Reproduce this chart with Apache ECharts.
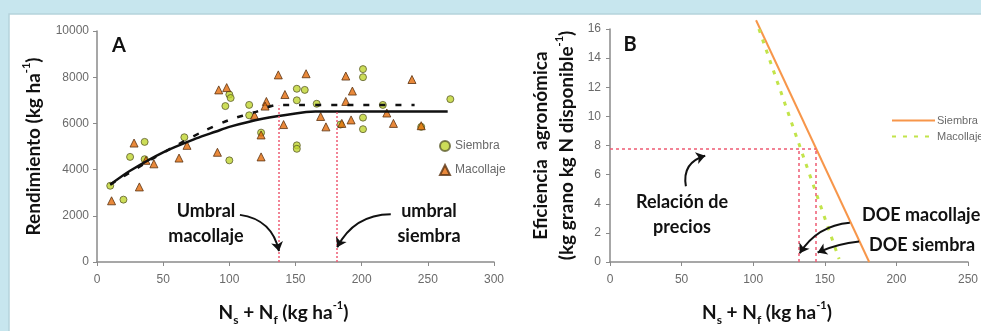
<!DOCTYPE html>
<html>
<head>
<meta charset="utf-8">
<script src="https://cdn.jsdelivr.net/npm/echarts@6/dist/echarts.min.js"></script>
<style>
  html, body { margin: 0; padding: 0; }
  #chart { width: 981px; height: 331px; }
</style>
</head>
<body>
<div id="chart"></div>
<script>
// panel A: rendimiento vs N
const siembraPts = [
  [10, 3300], [20, 2700], [25, 4550], [36, 5200], [36, 4450], [66, 5400],
  [97, 6750], [100, 7250], [101, 7100], [100, 4400], [115, 6800], [115, 6350], [124, 5600],
  [151, 7500], [157, 7450], [151, 7000], [151, 5050], [151, 4900], [166, 6850],
  [184, 5950], [201, 8350], [201, 8000], [201, 6250], [201, 5750], [216, 6800], [245, 5850], [267, 7050]
]
const macollajePts = [
  [11, 2650], [28, 5150], [32, 3250], [37, 4400], [43, 4250], [62, 4500], [68, 5050],
  [91, 4750], [92, 7450], [98, 7550], [119, 6350], [124, 5500], [124, 4550], [128, 6950], [127, 6750],
  [137, 8100], [141, 5950], [142, 7250], [158, 8150], [169, 6300], [173, 5850],
  [185, 6000], [188, 8050], [188, 6950], [192, 6150], [193, 7400], [219, 6450], [224, 6000], [238, 7900], [245, 5900]
]
const siembraFit = [
  [10, 3350], [25, 3950], [50, 4750], [75, 5350], [90, 5650], [100, 5850],
  [125, 6200], [150, 6430], [165, 6510], [181, 6520], [265, 6520]
]
const macollajeFit = [
  [10, 3350], [40, 4400], [60, 5050], [80, 5650], [100, 6150], [120, 6500], [137, 6800], [240, 6800]
]
const umbralMacollaje = 137
const umbralSiembra = 181
// flechas: [inicio, punta, curvatura]
const flechasA = [
  [[108, 2040], [137.5, 470], 0.35],
  [[222, 2070], [181.5, 640], -0.3]
]

// panel B: eficiencia agronomica
const siembraEA = [[102, 16.6], [181, 0]]
const macollajeEA = [[104, 16], [160, 0.2]]
const relacionPrecios = 7.8
const doeMacollaje = 132
const doeSiembra = 144
const flechasB = [
  [[53, 5.2], [66.5, 7.3], 0.45],
  [[167.5, 2.7], [132.5, 0.6], -0.25],
  [[174, 1.4], [145, 0.65], -0.08]
]

const chart = echarts.init(document.getElementById('chart'))

const gridLine = '#8a8a8a'
const tickColor = '#6a6a6a'
const redDot = { color: '#ee5b73', width: 1.5, type: [2, 2] }

const nameRich = {
  b: { fontFamily: 'Lato', fontWeight: 'bold', fontSize: 19, color: '#111', lineHeight: 26 },
  sub: { fontFamily: 'Lato', fontWeight: 'bold', fontSize: 12, color: '#111', lineHeight: 12, verticalAlign: 'bottom' },
  sup: { fontFamily: 'Lato', fontWeight: 'bold', fontSize: 11, color: '#111', lineHeight: 12, verticalAlign: 'top' }
}
const nName = '{b|N}{sub|s}{b| + N}{sub|f}{b| (kg ha}{sup|-1}{b|)}'

const tickLabel = (margin) => ({
  color: tickColor, fontSize: 12, fontFamily: 'Liberation Sans', margin,
  formatter: (v) => String(v)
})

const valueAxis = (extra) => Object.assign({
  type: 'value',
  splitLine: { show: false },
  axisLine: { show: true, lineStyle: { color: gridLine, width: 1.5 } },
  axisTick: { show: true, length: 4, lineStyle: { color: gridLine } },
  nameTextStyle: { rich: nameRich }
}, extra)

const lbl = (text, x, y, align) => ({
  type: 'text', x, y,
  style: {
    text, fill: '#111', font: 'bold 18px Lato', lineHeight: 25,
    textAlign: align || 'center', textVerticalAlign: 'middle'
  }
})

const flechas = (list, gi) => ({
  type: 'lines', coordinateSystem: 'cartesian2d', xAxisIndex: gi, yAxisIndex: gi,
  symbol: ['none', 'arrow'], symbolSize: 9, silent: true, z: 5,
  lineStyle: { color: '#111', width: 2, opacity: 1 },
  data: list.map((f) => ({ coords: [f[0], f[1]], lineStyle: { curveness: f[2] } }))
})

const option = {
  backgroundColor: '#c7e6ee',
  animation: false,
  graphic: [
    { type: 'rect', z: -10, shape: { x: 9, y: 14, width: 980, height: 330 }, style: { fill: '#fff', stroke: '#b5d3db', lineWidth: 1.5 } },
    { type: 'text', x: 119, y: 46, style: { text: 'A', fill: '#111', font: 'bold 20px Lato', textAlign: 'center', textVerticalAlign: 'middle' } },
    { type: 'text', x: 630, y: 45, style: { text: 'B', fill: '#111', font: 'bold 20px Lato', textAlign: 'center', textVerticalAlign: 'middle' } },
    lbl('Umbral\nmacollaje', 206, 224),
    lbl('umbral\nsiembra', 429, 224),
    lbl('Relación de\nprecios', 682, 215),
    lbl('DOE macollaje', 862, 215, 'left'),
    lbl('DOE siembra', 869, 245, 'left')
  ],
  grid: [
    { left: 97, top: 31, width: 397, height: 235 },
    { left: 610, top: 29, width: 366, height: 239 }
  ],
  legend: [
    {
      orient: 'vertical', left: 434, top: 135, itemWidth: 10, itemHeight: 10, itemGap: 12,
      textStyle: { color: tickColor, fontSize: 12, fontFamily: 'Liberation Sans' },
      data: ['Siembra', 'Macollaje']
    },
    {
      orient: 'vertical', left: 886, top: 110, itemWidth: 43, itemHeight: 10, itemGap: 5,
      itemStyle: { opacity: 0 },
      textStyle: { color: tickColor, fontSize: 11, fontFamily: 'Liberation Sans', padding: [0, 0, 0, -3] },
      data: ['Siembra ', 'Macollaje ']
    }
  ],
  xAxis: [
    valueAxis({
      gridIndex: 0, min: 0, max: 300, interval: 50,
      axisLabel: tickLabel(12),
      name: nName, nameLocation: 'middle', nameGap: 38,
      nameTextStyle: { rich: nameRich, padding: [0, 24, 0, 0] }
    }),
    valueAxis({
      gridIndex: 1, min: 0, max: 250, interval: 50,
      axisLabel: tickLabel(12),
      name: nName, nameLocation: 'middle', nameGap: 38,
      nameTextStyle: { rich: nameRich, padding: [0, 44, 0, 0] }
    })
  ],
  yAxis: [
    valueAxis({
      gridIndex: 0, min: 0, max: 10000, interval: 2000,
      axisLabel: tickLabel(8),
      name: '{b|Rendimiento (kg ha}{sup|-1}{b|)}', nameLocation: 'middle', nameGap: 50
    }),
    valueAxis({
      gridIndex: 1, min: 0, max: 16, interval: 2,
      axisLabel: tickLabel(9),
      name: '{b|Eficiencia  agronómica}\n{b|(kg grano kg N disponible}{sup|-1}{b|)}',
      nameLocation: 'middle', nameGap: 30
    })
  ],
  series: [
    {
      name: 'Siembra', type: 'scatter', xAxisIndex: 0, yAxisIndex: 0,
      symbol: 'circle', symbolSize: 7, z: 3,
      itemStyle: { color: '#bfd52e', borderColor: '#5c5c2c', borderWidth: 1 },
      data: siembraPts
    },
    {
      name: 'Macollaje', type: 'scatter', xAxisIndex: 0, yAxisIndex: 0,
      symbol: 'triangle', symbolSize: 8, z: 3,
      itemStyle: { color: '#e46c0a', borderColor: '#5a3210', borderWidth: 1 },
      data: macollajePts
    },
    {
      name: 'ajuste siembra', type: 'line', xAxisIndex: 0, yAxisIndex: 0,
      smooth: 0.3, showSymbol: false, z: 4,
      lineStyle: { color: '#111', width: 2.5 },
      data: siembraFit,
      markLine: {
        silent: true, symbol: 'none', label: { show: false }, lineStyle: redDot,
        data: [
          [{ coord: [umbralSiembra, 0] }, { coord: [umbralSiembra, 6480] }],
          [{ coord: [umbralMacollaje, 0] }, { coord: [umbralMacollaje, 6780] }]
        ]
      }
    },
    {
      name: 'ajuste macollaje', type: 'line', xAxisIndex: 0, yAxisIndex: 0,
      smooth: 0.3, showSymbol: false, z: 4,
      lineStyle: { color: '#111', width: 2.5, type: [6, 10] },
      data: macollajeFit
    },
    flechas(flechasA, 0),
    {
      name: 'Siembra ', type: 'line', xAxisIndex: 1, yAxisIndex: 1,
      showSymbol: false, symbol: 'none', clip: false,
      lineStyle: { color: '#f7964a', width: 2 }, itemStyle: { color: '#f7964a' },
      data: siembraEA,
      markLine: {
        silent: true, symbol: 'none', label: { show: false },
        lineStyle: { color: '#ee5b73', width: 1.5, type: [3, 3] },
        data: [
          [{ coord: [0, relacionPrecios] }, { coord: [doeSiembra, relacionPrecios] }],
          [{ coord: [doeMacollaje, 0] }, { coord: [doeMacollaje, relacionPrecios] }],
          [{ coord: [doeSiembra, 0] }, { coord: [doeSiembra, relacionPrecios] }]
        ]
      }
    },
    {
      name: 'Macollaje ', type: 'line', xAxisIndex: 1, yAxisIndex: 1,
      showSymbol: false, symbol: 'none',
      lineStyle: { color: '#c2e44a', width: 3, type: [4, 7] }, itemStyle: { color: '#c2e44a' },
      data: macollajeEA
    },
    flechas(flechasB, 1)
  ]
}

chart.setOption(option)
</script>
</body>
</html>
